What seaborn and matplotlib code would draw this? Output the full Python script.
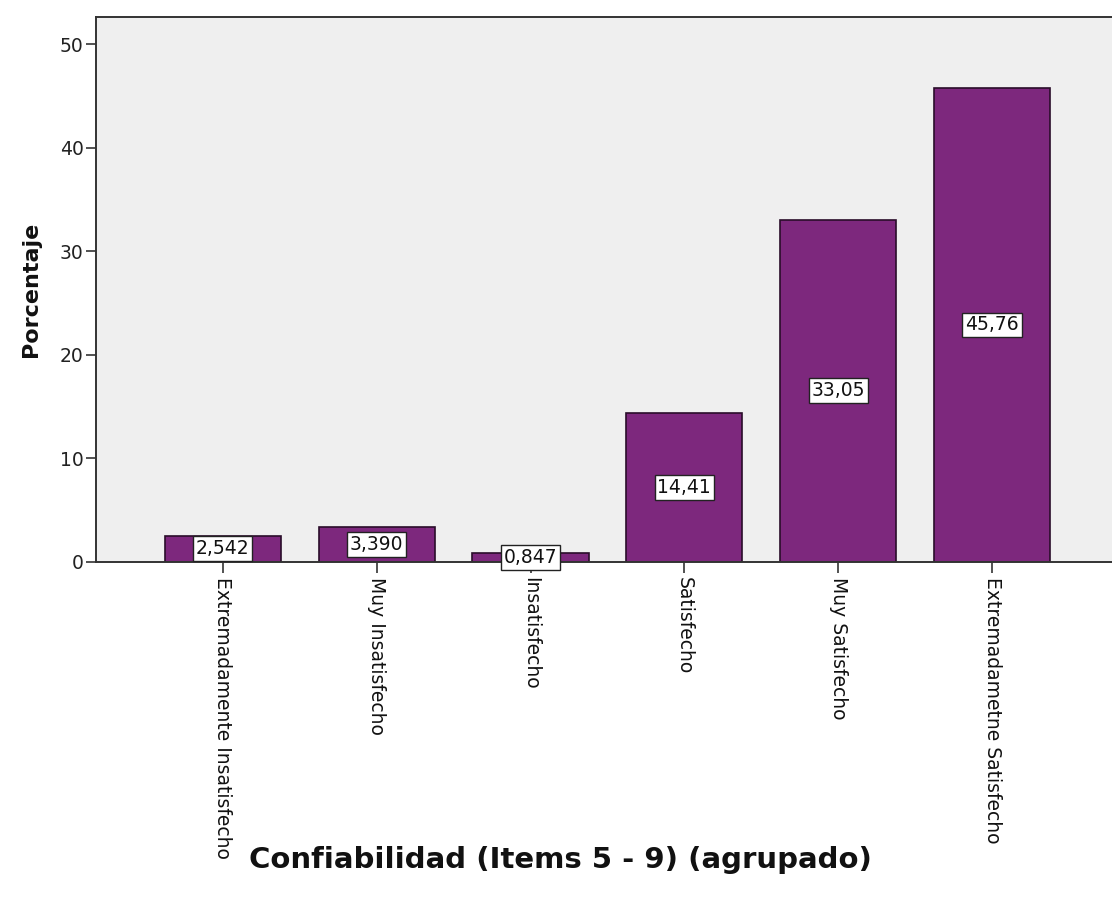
import matplotlib
matplotlib.use("Agg")
import matplotlib.pyplot as plt
import seaborn as sns
import pandas as pd

categories = [
    "Extremadamente Insatisfecho",
    "Muy Insatisfecho",
    "Insatisfecho",
    "Satisfecho",
    "Muy Satisfecho",
    "Extremadametne Satisfecho",
]
percentages = [2.542, 3.390, 0.847, 14.41, 33.05, 45.76]
value_labels = ["2,542", "3,390", "0,847", "14,41", "33,05", "45,76"]
y_ticks = [0, 10, 20, 30, 40, 50]

df = pd.DataFrame({"categoria": categories, "porcentaje": percentages})

sns.set_theme(style="white")
plt.rcParams["font.family"] = ["DejaVu Sans"]

fig = plt.figure(figsize=(11.12, 9.02), dpi=100)
ax = fig.add_axes([0.0863, 0.377, 0.9137, 0.604])
ax.set_facecolor("#efefef")

sns.barplot(data=df, x="categoria", y="porcentaje", order=categories,
            color="#7d287d", saturation=1, width=0.755,
            edgecolor="#2a0d2a", linewidth=1.2, ax=ax)

for i, (v, lab) in enumerate(zip(percentages, value_labels)):
    ax.text(i, v / 2, lab, ha="center", va="center", fontsize=13.5,
            color="#111111",
            bbox=dict(boxstyle="square,pad=0.15", facecolor="white",
                      edgecolor="#222222", linewidth=1.0))

ax.set_xlim(-0.825, 5.78)
ax.set_ylim(0, 52.6)
ax.set_yticks(y_ticks)
ax.set_yticklabels([str(t) for t in y_ticks], fontsize=13.5, color="#222222")
ax.set_xticks(range(len(categories)))
ax.set_xticklabels(categories, rotation=270, fontsize=13.5, color="#111111",
                   va="top", ha="center")

ax.tick_params(axis="y", which="major", direction="out", length=7, width=1.2,
               color="#333333", left=True, pad=2)
ax.tick_params(axis="x", which="major", direction="out", length=8, width=1.2,
               color="#333333", bottom=True, pad=3)

for side in ["left", "top", "bottom"]:
    ax.spines[side].set_visible(True)
    ax.spines[side].set_color("#333333")
    ax.spines[side].set_linewidth(1.4)
ax.spines["right"].set_visible(False)

ax.set_ylabel("Porcentaje", fontsize=16, fontweight="bold", color="#111111")
ax.yaxis.set_label_coords(-0.054, 0.5)
ax.set_xlabel("Confiabilidad (Items 5 - 9) (agrupado)", fontsize=21,
              fontweight="bold", color="#111111")
ax.xaxis.set_label_coords(0.457, -0.547)
ax.xaxis.label.set_va("center")

fig.savefig("out.png", dpi=100, facecolor="white")
